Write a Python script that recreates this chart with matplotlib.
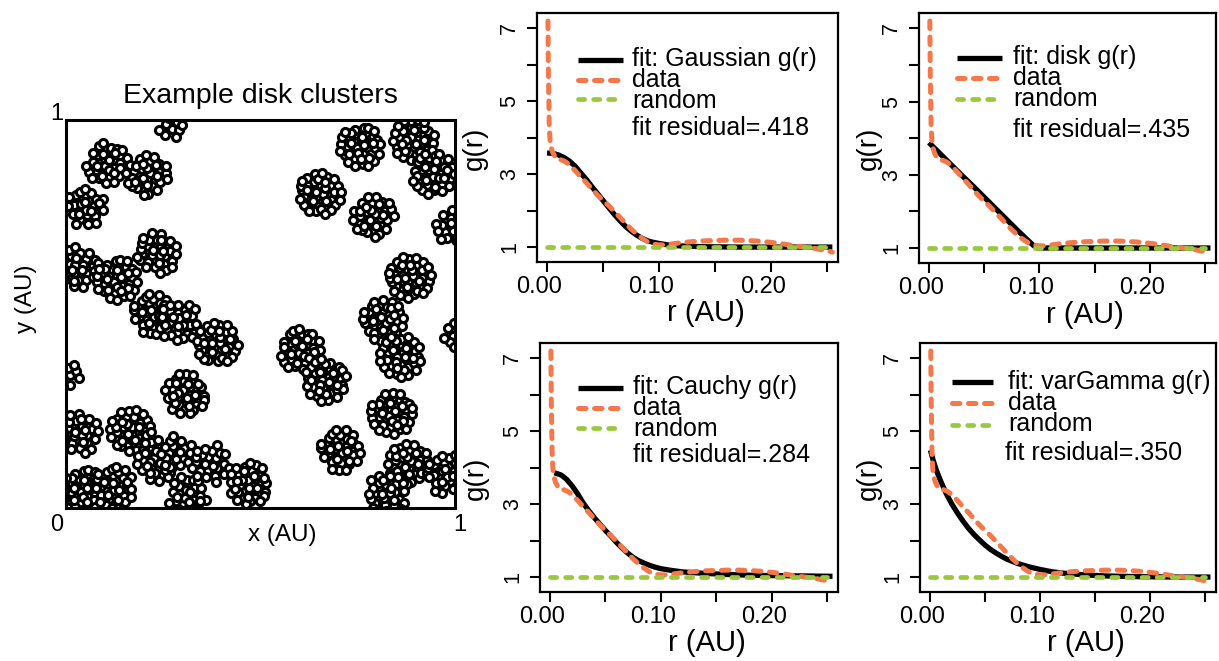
import numpy as np
import matplotlib
matplotlib.use("Agg")
import matplotlib.pyplot as plt
import matplotlib.transforms as mtransforms

plt.rcParams['font.family'] = ['Liberation Sans', 'DejaVu Sans']

# ---- left panel: cluster centres ----
cluster_x = [0.272, 0.105, 0.208, 0.050, 0.234, 0.031, 0.131, 0.222, 0.290, 0.388,
             0.012, 0.306, 0.033, 0.045, 0.165, 0.122, 0.234, 0.285, 0.311, 0.371,
             0.469, 0.602, 0.666, 0.705, 0.653, 0.790, 0.756, 0.893, 0.944, 0.988,
             0.884, 0.816, 0.859, 0.837, 0.880, 0.825, 0.978, 0.992]
cluster_y = [0.975, 0.888, 0.858, 0.776, 0.657, 0.621, 0.588, 0.500, 0.480, 0.425,
             0.340, 0.295, 0.192, 0.046, 0.200, 0.054, 0.123, 0.140, 0.033, 0.114,
             0.063, 0.407, 0.329, 0.149, 0.811, 0.751, 0.931, 0.948, 0.862, 0.725,
             0.596, 0.484, 0.390, 0.243, 0.114, 0.037, 0.089, 0.445]
cluster_n = [9, 40, 40, 30, 36, 34, 44, 38, 34, 44,
             9, 42, 34, 44, 46, 38, 40, 20, 30, 26,
             42, 42, 44, 38, 47, 40, 44, 47, 44, 18,
             47, 44, 46, 47, 44, 34, 34, 9]
cluster_angle = [10, 40, 200, 75, 130, 310, 20, 95, 250, 170,
                 60, 280, 140, 15, 225, 80, 300, 190, 35, 120,
                 260, 50, 330, 100, 155, 215, 5, 290, 70, 240,
                 180, 115, 345, 25, 205, 165, 90, 270]
cluster_radius = 0.056

# typed offsets of points inside one unit disk, roughly centre outwards
template_x = [0.02, 0.33, -0.22, 0.12, -0.35, 0.28, -0.05, 0.52, -0.58, 0.21,
              -0.31, 0.47, 0.09, -0.15, 0.40, -0.45, 0.70, -0.72, 0.05, 0.62,
              -0.18, 0.25, -0.60, 0.80, -0.88, 0.58, -0.40, 0.20, -0.10, 0.35,
              0.85, -0.80, 0.45, -0.30, 0.93, -0.95, 0.15, -0.55, 0.60, 0.00,
              -0.35, 0.72, -0.62, 0.30, -0.85, 0.10, 0.97]
template_y = [0.05, -0.08, 0.31, -0.36, -0.18, 0.29, 0.55, 0.12, 0.08, -0.62,
              -0.55, -0.38, 0.22, -0.05, 0.55, 0.48, -0.10, -0.30, -0.82, 0.42,
              0.80, 0.83, -0.66, 0.22, 0.20, -0.70, 0.20, 0.05, -0.30, -0.55,
              -0.40, 0.50, 0.82, -0.88, 0.05, -0.10, 0.45, -0.30, 0.10, -0.55,
              0.65, 0.65, 0.75, -0.90, -0.45, 0.97, -0.15]

# ---- right panels: g(r) curves ----
r_data = [0.0008, 0.0012, 0.002, 0.003, 0.005, 0.008, 0.012, 0.016, 0.02, 0.025,
          0.03, 0.035, 0.04, 0.045, 0.05, 0.055, 0.06, 0.065, 0.07, 0.075,
          0.08, 0.085, 0.09, 0.095, 0.10, 0.105, 0.11, 0.12, 0.13, 0.14,
          0.15, 0.16, 0.17, 0.18, 0.19, 0.20, 0.21, 0.22, 0.23, 0.24, 0.25, 0.255]
g_data = [7.2, 5.8, 4.3, 3.8, 3.6, 3.42, 3.4, 3.35, 3.26, 3.1,
          2.93, 2.77, 2.6, 2.43, 2.28, 2.14, 1.98, 1.82, 1.66, 1.5,
          1.36, 1.24, 1.14, 1.08, 1.06, 1.06, 1.08, 1.12, 1.15, 1.17,
          1.18, 1.19, 1.19, 1.18, 1.16, 1.13, 1.09, 1.04, 1.0, 0.96, 0.9, 0.86]

r_random = [0.0, 0.25]
g_random = [1.0, 1.0]

r_gauss = [0.0, 0.005, 0.01, 0.015, 0.02, 0.025, 0.03, 0.035, 0.04, 0.045, 0.05,
           0.055, 0.06, 0.065, 0.07, 0.075, 0.08, 0.085, 0.09, 0.095, 0.10,
           0.11, 0.12, 0.14, 0.17, 0.255]
g_gauss = [3.58, 3.57, 3.53, 3.46, 3.36, 3.22, 3.04, 2.86, 2.66, 2.47, 2.28,
           2.09, 1.9, 1.73, 1.57, 1.44, 1.33, 1.24, 1.17, 1.13, 1.1,
           1.05, 1.03, 1.01, 1.0, 1.0]

r_disk = [0.0, 0.01, 0.02, 0.03, 0.04, 0.05, 0.06, 0.07, 0.08, 0.09, 0.095, 0.098, 0.255]
g_disk = [3.88, 3.58, 3.28, 2.98, 2.69, 2.39, 2.09, 1.79, 1.49, 1.2, 1.06, 1.0, 1.0]

r_cauchy = [0.004, 0.01, 0.015, 0.02, 0.025, 0.03, 0.035, 0.04, 0.045, 0.05,
            0.055, 0.06, 0.065, 0.07, 0.075, 0.08, 0.085, 0.09, 0.095, 0.10,
            0.11, 0.12, 0.13, 0.14, 0.16, 0.18, 0.20, 0.23, 0.255]
g_cauchy = [3.86, 3.8, 3.68, 3.5, 3.28, 3.03, 2.82, 2.63, 2.45, 2.28,
            2.12, 1.95, 1.8, 1.66, 1.54, 1.45, 1.38, 1.32, 1.27, 1.23,
            1.18, 1.14, 1.12, 1.1, 1.07, 1.05, 1.04, 1.03, 1.02]

r_vargamma = [0.0005, 0.003, 0.006, 0.01, 0.015, 0.02, 0.025, 0.03, 0.035, 0.04,
              0.045, 0.05, 0.055, 0.06, 0.065, 0.07, 0.08, 0.09, 0.10, 0.11,
              0.12, 0.14, 0.16, 0.19, 0.22, 0.255]
g_vargamma = [4.48, 4.2, 3.92, 3.62, 3.28, 3.0, 2.76, 2.54, 2.34, 2.17,
              2.02, 1.88, 1.76, 1.66, 1.57, 1.49, 1.37, 1.28, 1.21, 1.15,
              1.11, 1.06, 1.03, 1.01, 1.0, 1.0]

fit_names = ["Gaussian", "disk", "Cauchy", "varGamma"]
fit_r = [r_gauss, r_disk, r_cauchy, r_vargamma]
fit_g = [g_gauss, g_disk, g_cauchy, g_vargamma]
residuals = [".418", ".435", ".284", ".350"]

ORANGE = "#F5784A"
GREEN = "#9AC83C"
DATA_DASH = (1.5, 1.7)
RAND_DASH = (1.3, 1.9)

fig = plt.figure(figsize=(12.19, 6.61), dpi=100)

# ---------------- left: point pattern ----------------
ax0 = fig.add_axes([0.0541, 0.2315, 0.3191, 0.587])
xs, ys = [], []
tx = np.array(template_x)
ty = np.array(template_y)
for cx, cy, n, ang in zip(cluster_x, cluster_y, cluster_n, cluster_angle):
    a = np.deg2rad(ang)
    ox = tx[:n] * np.cos(a) - ty[:n] * np.sin(a)
    oy = tx[:n] * np.sin(a) + ty[:n] * np.cos(a)
    xs.extend(cx + cluster_radius * ox)
    ys.extend(cy + cluster_radius * oy)
ax0.scatter(xs, ys, s=34, facecolor="white", edgecolor="black", linewidths=2.2)
ax0.set_xlim(0, 1)
ax0.set_ylim(0, 1)
ax0.set_xticks([])
ax0.set_yticks([])
for sp in ax0.spines.values():
    sp.set_linewidth(2.2)
ax0.text(0.5, 1.044, "Example disk clusters", transform=ax0.transAxes,
         ha="center", va="baseline", fontsize=20.5)
ax0.text(-0.023, 1.015, "1", transform=ax0.transAxes, ha="center", va="center", fontsize=17)
ax0.text(-0.023, -0.044, "0", transform=ax0.transAxes, ha="center", va="center", fontsize=17)
ax0.text(1.013, -0.044, "1", transform=ax0.transAxes, ha="center", va="center", fontsize=17)
ax0.text(0.555, -0.07, "x (AU)", transform=ax0.transAxes, ha="center", va="center", fontsize=17.5)
ax0.text(-0.103, 0.539, "y (AU)", transform=ax0.transAxes, ha="center", va="center",
         rotation=90, fontsize=17.5)

# ---------------- right: g(r) fits ----------------
boxes = [[0.4405, 0.6036, 0.2469, 0.3767],
         [0.7539, 0.6021, 0.2436, 0.3782],
         [0.4430, 0.1044, 0.2445, 0.3767],
         [0.7547, 0.1044, 0.2428, 0.3767]]
ylabel_x = [-0.163, -0.125, -0.170, -0.128]
# legend placement in axes fractions: handle start, handle end, text x, row ys, residual x/y
leg_pos = [(0.136, 0.286, 0.316, [0.811, 0.731, 0.655], 0.316, 0.538),
           (0.128, 0.279, 0.316, [0.820, 0.740, 0.656], 0.316, 0.532),
           (0.128, 0.279, 0.312, [0.819, 0.739, 0.659], 0.312, 0.550),
           (0.108, 0.247, 0.297, [0.843, 0.759, 0.671], 0.287, 0.558)]
shift_left = mtransforms.ScaledTranslation(-8 / 100, 0, fig.dpi_scale_trans)

for i in range(4):
    ax = fig.add_axes(boxes[i])
    ax.plot(fit_r[i], fit_g[i], color="black", lw=3.8, solid_capstyle="butt")
    ax.plot(r_data, g_data, color=ORANGE, lw=3.6, dashes=DATA_DASH,
            dash_capstyle="round")
    ax.plot(r_random, g_random, color=GREEN, lw=3.4, dashes=RAND_DASH,
            dash_capstyle="round")
    ax.set_xlim(-0.009, 0.260)
    ax.set_ylim(0.59, 7.42)
    ax.set_xticks([0, 0.05, 0.10, 0.15, 0.20, 0.25])
    ax.set_xticklabels(["0.00", "", "0.10", "", "0.20", ""])
    ax.set_yticks([1, 2, 3, 4, 5, 6, 7])
    ax.set_yticklabels(["1", "", "3", "", "5", "", "7"], rotation=90, va="center")
    ax.tick_params(axis="both", direction="out", length=7, width=1.5)
    ax.tick_params(axis="x", pad=3, labelsize=17)
    ax.tick_params(axis="y", pad=5, labelsize=15.5)
    for lab in ax.get_xticklabels():
        lab.set_transform(lab.get_transform() + shift_left)
    for sp in ax.spines.values():
        sp.set_linewidth(1.6)
    ax.set_xlabel("r (AU)", fontsize=21)
    ax.xaxis.set_label_coords(0.56, -0.15)
    ax.set_ylabel("g(r)", fontsize=20)
    ax.yaxis.set_label_coords(ylabel_x[i], 0.458)

    hx0, hx1, tx0, rows, rx, ry = leg_pos[i]
    ax.plot([hx0, hx1], [rows[0]] * 2, color="black", lw=3.8, transform=ax.transAxes,
            clip_on=False, solid_capstyle="butt")
    ax.plot([hx0, hx1], [rows[1]] * 2, color=ORANGE, lw=3.6, dashes=DATA_DASH,
            dash_capstyle="round", transform=ax.transAxes, clip_on=False)
    ax.plot([hx0, hx1], [rows[2]] * 2, color=GREEN, lw=3.4, dashes=RAND_DASH,
            dash_capstyle="round", transform=ax.transAxes, clip_on=False)
    legend_text = "fit: %s g(r)\ndata\nrandom" % fit_names[i]
    ax.text(tx0, rows[1], legend_text, transform=ax.transAxes, ha="left", va="center",
            fontsize=18, linespacing=0.84)
    ax.text(rx, ry, "fit residual=%s" % residuals[i], transform=ax.transAxes,
            ha="left", va="center", fontsize=18)

fig.savefig("out.png", dpi=100)
